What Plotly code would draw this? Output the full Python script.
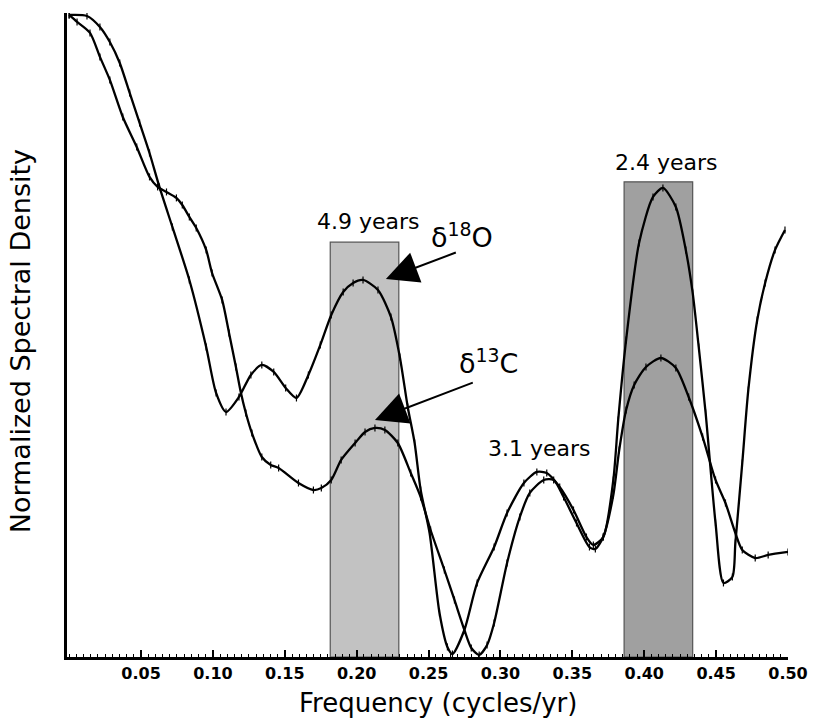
import plotly.graph_objects as go

# --- data (frequency in cycles/yr, normalized spectral density) ---
freq_o18 = [0.0, 0.0124, 0.0214, 0.0283, 0.0352, 0.0421, 0.0490, 0.0559, 0.0628, 0.0718,
            0.0836, 0.0953, 0.1022, 0.1091, 0.1181, 0.1264, 0.1340, 0.1423, 0.1506, 0.1581,
            0.1664, 0.1747, 0.1823, 0.1906, 0.1975, 0.2044, 0.2148, 0.2238, 0.2300, 0.2355,
            0.2403, 0.2445, 0.2507, 0.2576, 0.2631, 0.2666, 0.2749, 0.2838, 0.2956, 0.3046,
            0.3163, 0.3253, 0.3322, 0.3412, 0.3508, 0.3598, 0.3646, 0.3715, 0.3785, 0.3819,
            0.3874, 0.3964, 0.4061, 0.4130, 0.4220, 0.4289, 0.4337, 0.4379, 0.4427, 0.4496,
            0.4551, 0.4613, 0.4634, 0.4682, 0.4724, 0.4786, 0.4841, 0.4910, 0.4979]
dens_o18 = [1.0, 0.9984, 0.9813, 0.9579, 0.9252, 0.8785, 0.8318, 0.7850, 0.7321, 0.6698,
            0.5872, 0.4829, 0.4112, 0.3816, 0.4050, 0.4393, 0.4548, 0.4439, 0.4190, 0.4034,
            0.4393, 0.4860, 0.5327, 0.5685, 0.5826, 0.5872, 0.5717, 0.5296, 0.4673, 0.3894,
            0.3333, 0.2601, 0.1931, 0.0685, 0.0156, 0.0047, 0.0421, 0.1153, 0.1713, 0.2243,
            0.2710, 0.2882, 0.2866, 0.2648, 0.2290, 0.1869, 0.1745, 0.1869, 0.2757, 0.3692,
            0.4938, 0.6449, 0.7165, 0.7305, 0.7009, 0.6340, 0.5670, 0.4829, 0.3801, 0.2087,
            0.1153, 0.1246, 0.1776, 0.3022, 0.4159, 0.5249, 0.5826, 0.6340, 0.6651]

freq_c13 = [0.0, 0.0055, 0.0145, 0.0214, 0.0283, 0.0373, 0.0470, 0.0559, 0.0615, 0.0677,
            0.0746, 0.0787, 0.0836, 0.0884, 0.0953, 0.0994, 0.1064, 0.1112, 0.1160, 0.1195,
            0.1229, 0.1271, 0.1340, 0.1402, 0.1457, 0.1595, 0.1699, 0.1754, 0.1823, 0.1892,
            0.1989, 0.2058, 0.2127, 0.2196, 0.2286, 0.2376, 0.2445, 0.2514, 0.2610, 0.2680,
            0.2749, 0.2797, 0.2852, 0.2907, 0.2956, 0.3046, 0.3135, 0.3204, 0.3301, 0.3370,
            0.3439, 0.3529, 0.3619, 0.3660, 0.3715, 0.3785, 0.3826, 0.3874, 0.3930, 0.4012,
            0.4116, 0.4220, 0.4309, 0.4406, 0.4496, 0.4565, 0.4634, 0.4682, 0.4772, 0.4862,
            0.5000]
dens_c13 = [1.0, 0.9891, 0.9720, 0.9346, 0.8988, 0.8411, 0.7944, 0.7477, 0.7321, 0.7243,
            0.7150, 0.7040, 0.6854, 0.6682, 0.6340, 0.5981, 0.5561, 0.5047, 0.4517, 0.4112,
            0.3801, 0.3489, 0.3115, 0.2991, 0.2944, 0.2710, 0.2601, 0.2632, 0.2757, 0.3069,
            0.3333, 0.3505, 0.3567, 0.3536, 0.3333, 0.2866, 0.2492, 0.1978, 0.1355, 0.0888,
            0.0421, 0.0140, 0.0031, 0.0187, 0.0530, 0.1464, 0.2181, 0.2555, 0.2757, 0.2757,
            0.2492, 0.2087, 0.1713, 0.1682, 0.1869, 0.2523, 0.3224, 0.3847, 0.4237, 0.4517,
            0.4657, 0.4502, 0.4050, 0.3427, 0.2757, 0.2399, 0.1931, 0.1667, 0.1542, 0.1589,
            0.1636]

# shaded period bands (frequency ranges, band heights)
band_x = [(0.1816, 0.2293), (0.3860, 0.4337)]
band_top = [0.646, 0.740]
band_colors = ["#c2c2c2", "#a0a0a0"]

tick_vals = [0.05, 0.10, 0.15, 0.20, 0.25, 0.30, 0.35, 0.40, 0.45, 0.50]
tick_text = ["0.05", "0.10", "0.15", "0.20", "0.25", "0.30", "0.35", "0.40", "0.45", "0.50"]

period_labels = ["4.9 years", "3.1 years", "2.4 years"]
period_pos = [(0.2079, 0.679), (0.3273, 0.324), (0.4157, 0.7695)]

fig = go.Figure()

for fx, dy in [(freq_o18, dens_o18), (freq_c13, dens_c13)]:
    fig.add_trace(go.Scatter(
        x=fx, y=dy, mode="lines+markers",
        line=dict(color="black", width=2.3, shape="spline", smoothing=0.7),
        marker=dict(symbol="line-ns", size=5, line=dict(color="black", width=1.2)),
        showlegend=False, hoverinfo="skip"))

shapes = []
for (x0, x1), top, col in zip(band_x, band_top, band_colors):
    shapes.append(dict(type="rect", xref="x", yref="y", x0=x0, x1=x1, y0=0, y1=top,
                       fillcolor=col, line=dict(color="#555555", width=1.2), layer="below"))

annotations = []
font_txt = dict(family="DejaVu Sans", size=22, color="black")
for txt, (px, py) in zip(period_labels, period_pos):
    annotations.append(dict(x=px, y=py, xref="x", yref="y", text=txt, showarrow=False,
                            font=font_txt, xanchor="center", yanchor="middle"))

annotations.append(dict(x=0.2735, y=0.656, xref="x", yref="y", text="δ<sup>18</sup>O",
                        showarrow=False, font=dict(family="DejaVu Sans", size=27, color="black"),
                        xanchor="center", yanchor="middle"))
annotations.append(dict(x=0.2914, y=0.461, xref="x", yref="y", text="δ<sup>13</sup>C",
                        showarrow=False, font=dict(family="DejaVu Sans", size=27, color="black"),
                        xanchor="center", yanchor="middle"))

# arrows
annotations.append(dict(x=0.2203, y=0.5888, xref="x", yref="y", ax=0.2700, ay=0.6308,
                        axref="x", ayref="y", text="", showarrow=True, arrowhead=2,
                        arrowsize=3.2, arrowwidth=2, arrowcolor="black"))
annotations.append(dict(x=0.2127, y=0.3692, xref="x", yref="y", ax=0.2818, ay=0.4283,
                        axref="x", ayref="y", text="", showarrow=True, arrowhead=2,
                        arrowsize=3.2, arrowwidth=2, arrowcolor="black"))

# axis titles
annotations.append(dict(x=0.514, y=-0.0714, xref="paper", yref="paper",
                        text="Frequency (cycles/yr)", showarrow=False,
                        font=dict(family="DejaVu Sans", size=26, color="black"),
                        xanchor="center", yanchor="middle"))
annotations.append(dict(x=-0.064, y=0.49, xref="paper", yref="paper",
                        text="Normalized Spectral Density", showarrow=False, textangle=-90,
                        font=dict(family="DejaVu Sans", size=27, color="black"),
                        xanchor="center", yanchor="middle"))

fig.update_layout(
    width=820, height=718,
    margin=dict(l=67, r=27, t=13, b=61),
    paper_bgcolor="white", plot_bgcolor="white",
    shapes=shapes, annotations=annotations,
    xaxis=dict(range=[-0.0015, 0.5], showgrid=False, zeroline=False,
               showline=True, linecolor="black", linewidth=2.5,
               tickmode="array", tickvals=tick_vals, ticktext=tick_text,
               ticks="inside", ticklen=7, tickwidth=1.5, tickcolor="black",
               tickfont=dict(family="DejaVu Sans", size=16, color="black", weight="bold"),
               minor=dict(tickmode="linear", tick0=0, dtick=0.005, ticks="inside",
                          ticklen=3, tickwidth=1, tickcolor="black", showgrid=False)),
    yaxis=dict(range=[0, 1.003], showgrid=False, zeroline=False,
               showline=True, linecolor="black", linewidth=2.5,
               showticklabels=False, ticks=""),
)

fig.write_html("out.html")
